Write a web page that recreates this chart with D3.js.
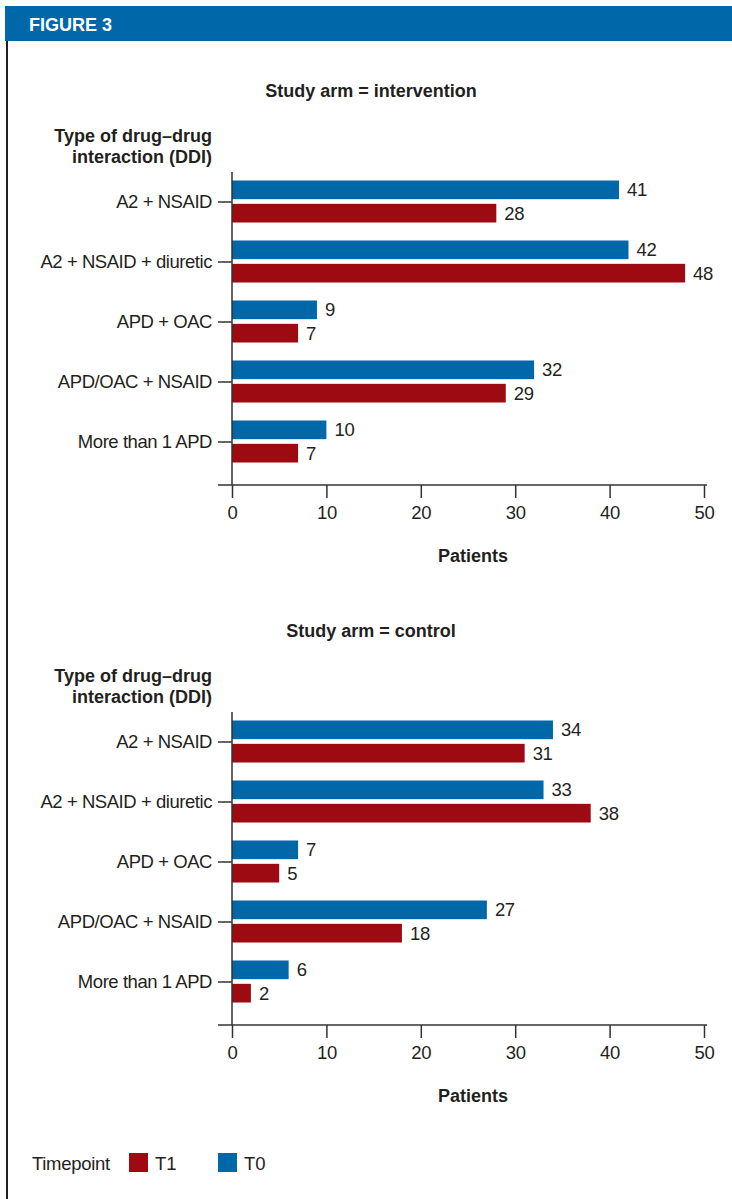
<!DOCTYPE html>
<html><head><meta charset="utf-8">
<script src="https://cdn.jsdelivr.net/npm/d3@7"></script>
<style>
body{margin:0;background:#fff;}
svg{display:block;}
text{font-family:"Liberation Sans Narrow","Arial Narrow","Liberation Sans",sans-serif;fill:#231f20;}
</style></head>
<body>
<svg id="c" width="732" height="1199"></svg>
<script>
const categories = ["A2 + NSAID","A2 + NSAID + diuretic","APD + OAC","APD/OAC + NSAID","More than 1 APD"];
const series = ["T0","T1"];
const interventionT0 = [41,42,9,32,10];
const interventionT1 = [28,48,7,29,7];
const controlT0 = [34,33,7,27,6];
const controlT1 = [31,38,5,18,2];
const xTicks = [0,10,20,30,40,50];
const panels = [
  {title:"Study arm = intervention", T0:interventionT0, T1:interventionT1},
  {title:"Study arm = control", T0:controlT0, T1:controlT1}
];
const colors = {T0:"#0067a9", T1:"#9d0a12"};
const FONT = '"Liberation Sans Narrow","Arial Narrow","Liberation Sans",sans-serif';

const svg = d3.select("#c");
// header
svg.append("rect").attr("x",5).attr("y",6).attr("width",727).attr("height",35).attr("fill","#0067a9");
svg.append("text").attr("x",29).attr("y",31).text("FIGURE 3")
  .style("fill","#fff").style("font-weight","bold").style("font-size","18px");
svg.append("line").attr("x1",7).attr("x2",7).attr("y1",41).attr("y2",1199)
  .attr("stroke","#231f20").attr("stroke-width",2);

const x = d3.scaleLinear().domain([0,50]).range([232,704]);
const axisColor = "#333";

panels.forEach((p,i)=>{
  const off = i*540;
  const g = svg.append("g").attr("transform",`translate(0,${off})`);
  g.append("text").attr("x",371).attr("y",97).attr("text-anchor","middle")
    .style("font-weight","bold").style("font-size","18px").text(p.title);
  const yl = g.append("text").attr("x",212).attr("text-anchor","end")
    .style("font-weight","bold").style("font-size","18px");
  yl.append("tspan").attr("x",212).attr("y",142).text("Type of drug\u2013drug");
  yl.append("tspan").attr("x",212).attr("y",163).text("interaction (DDI)");

  const y = d3.scaleBand().domain(categories).range([172,472]);
  const yi = d3.scaleBand().domain(series).range([8.5,50.5]).paddingInner(0.2);

  // bars
  series.forEach(s=>{
    const vals = p[s];
    g.selectAll(null).data(categories).enter().append("rect")
      .attr("x",x(0)).attr("y",(c)=>y(c)+yi(s))
      .attr("width",(c,j)=>x(vals[j])-x(0)).attr("height",yi.bandwidth())
      .attr("fill",colors[s]);
    g.selectAll(null).data(categories).enter().append("text")
      .attr("x",(c,j)=>x(vals[j])+8).attr("y",(c)=>y(c)+yi(s)+yi.bandwidth()/2)
      .attr("dy","0.36em").style("font-size","18.5px").style("letter-spacing","-0.3px").text((c,j)=>vals[j]);
  });

  // y axis
  const ya = g.append("g").attr("transform",`translate(${x(0)},0)`)
    .call(d3.axisLeft(y).tickSize(14).tickPadding(6));
  ya.select(".domain").remove();
  ya.selectAll("line").attr("stroke",axisColor).attr("stroke-width",1.5);
  ya.selectAll("text").style("font-size","18.5px").style("letter-spacing","-0.45px").attr("fill","#231f20")
    .style("font-family",FONT);
  g.append("line").attr("x1",x(0)).attr("x2",x(0)).attr("y1",172).attr("y2",485)
    .attr("stroke",axisColor).attr("stroke-width",1.5);

  // x axis
  const xa = g.append("g").attr("transform",`translate(0,485)`)
    .call(d3.axisBottom(x).tickValues(xTicks).tickSize(13).tickPadding(8));
  xa.select(".domain").remove();
  xa.selectAll("line").attr("stroke",axisColor).attr("stroke-width",1.5);
  xa.selectAll("text").style("font-size","18.5px").style("letter-spacing","-0.3px").attr("fill","#231f20")
    .style("font-family",FONT);
  g.append("line").attr("x1",218).attr("x2",707).attr("y1",485).attr("y2",485)
    .attr("stroke",axisColor).attr("stroke-width",1.5);
  g.append("text").attr("x",473).attr("y",562).attr("text-anchor","middle")
    .style("font-weight","bold").style("font-size","18px").text("Patients");
});

// legend
const lg = svg.append("g");
lg.append("text").attr("x",32).attr("y",1170).style("font-size","18.5px").style("letter-spacing","-0.3px").text("Timepoint");
const legendItems = [{k:"T1",x:129},{k:"T0",x:218}];
legendItems.forEach(d=>{
  lg.append("rect").attr("x",d.x).attr("y",1153).attr("width",19).attr("height",19).attr("fill",colors[d.k]);
  lg.append("text").attr("x",d.x+26).attr("y",1170).style("font-size","18.5px").text(d.k);
});
</script>
</body></html>
